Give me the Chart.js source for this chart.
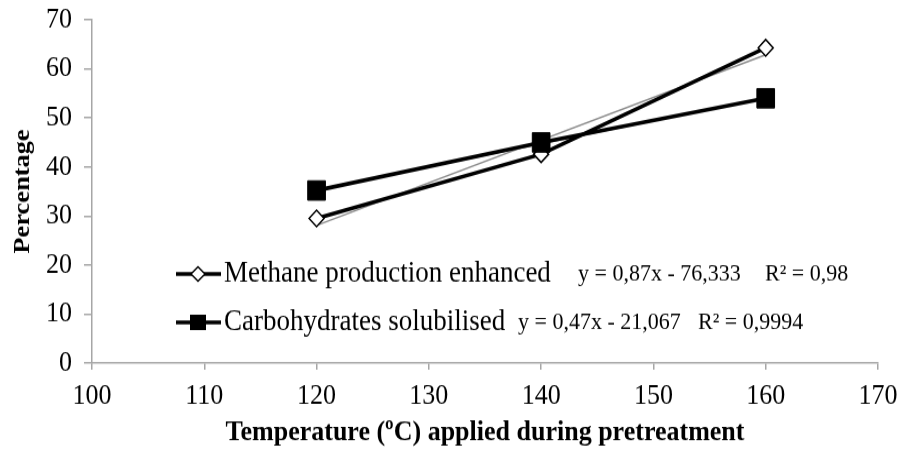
<!DOCTYPE html>
<html>
<head>
<meta charset="utf-8">
<script src="https://cdn.jsdelivr.net/npm/chart.js@4/dist/chart.umd.min.js"></script>
<style>
  html, body { margin: 0; padding: 0; background: #fff; }
  /* canvas is drawn 409px tall and stretched to 450 to get the tall serif look */
  #chart { width: 899px; height: 450px; }
</style>
</head>
<body>
<canvas id="chart" width="899" height="409" style="width:899px;height:450px"></canvas>
<script>
// pretreatment temperatures (ºC) and measured percentages
const temperatures = [120, 140, 160];
const methaneEnhanced = [29.5, 42.6, 64.3];
const carbsSolubilised = [35.2, 45.0, 54.0];

// linear fit lines, end points at 120 and 160 ºC
const trendTemps = [120, 160];
const methaneTrend = [28.07, 62.87];
const carbsTrend = [35.33, 54.13];

const xTicks = [100, 110, 120, 130, 140, 150, 160, 170];
const yTicks = [0, 10, 20, 30, 40, 50, 60, 70];

const seriesNames = ['Methane production enhanced', 'Carbohydrates solubilised'];
const fitEquations = ['y = 0,87x - 76,333', 'y = 0,47x - 21,067'];
const fitR2 = ['R² = 0,98', 'R² = 0,9994'];

const AXIS_GREY = '#a6a6a6';
const SERIF = '"Liberation Serif", "Times New Roman", serif';

const toPoints = (xs, ys) => xs.map((x, i) => ({ x, y: ys[i] }));

// legend sits inside the plot, with the fit equations next to each entry
const insideLegend = {
  id: 'insideLegend',
  afterDraw(chart) {
    const ctx = chart.ctx;
    const rows = [
      { y: 249, eqX: 578, r2X: 765, marker: 'diamond' },
      { y: 293, eqX: 518, r2X: 698, marker: 'square' }
    ];
    ctx.save();
    rows.forEach((row, i) => {
      ctx.strokeStyle = '#000';
      ctx.lineWidth = 3.6;
      ctx.beginPath();
      ctx.moveTo(176, row.y);
      ctx.lineTo(221, row.y);
      ctx.stroke();
      if (row.marker === 'diamond') {
        ctx.fillStyle = '#fff';
        ctx.lineWidth = 1.5;
        ctx.beginPath();
        ctx.moveTo(198, row.y - 6.5);
        ctx.lineTo(205, row.y);
        ctx.lineTo(198, row.y + 6.5);
        ctx.lineTo(191, row.y);
        ctx.closePath();
        ctx.fill();
        ctx.stroke();
      } else {
        ctx.fillStyle = '#000';
        ctx.fillRect(190, row.y - 7, 16, 14);
      }
      ctx.fillStyle = '#000';
      ctx.textBaseline = 'middle';
      ctx.textAlign = 'left';
      ctx.font = '27px ' + SERIF;
      ctx.fillText(seriesNames[i], 224, row.y);
      ctx.font = '22px ' + SERIF;
      ctx.fillText(fitEquations[i], row.eqX, row.y);
      ctx.fillText(fitR2[i], row.r2X, row.y);
    });
    ctx.restore();
  }
};

new Chart(document.getElementById('chart'), {
  type: 'scatter',
  data: {
    datasets: [
      {
        label: seriesNames[0],
        data: toPoints(temperatures, methaneEnhanced),
        showLine: true,
        borderColor: '#000',
        borderWidth: 3.6,
        pointStyle: 'rectRot',
        pointRadius: 7.5,
        pointBackgroundColor: '#fff',
        pointBorderColor: '#000',
        pointBorderWidth: 1.5,
        order: 2
      },
      {
        label: seriesNames[1],
        data: toPoints(temperatures, carbsSolubilised),
        showLine: true,
        borderColor: '#000',
        borderWidth: 3.6,
        pointStyle: 'rect',
        pointRadius: 12.5,
        pointBackgroundColor: '#000',
        pointBorderColor: '#000',
        pointBorderWidth: 1,
        order: 1
      },
      // fit lines go underneath the data lines
      {
        label: 'Linear (methane)',
        data: toPoints(trendTemps, methaneTrend),
        showLine: true,
        borderColor: '#8c8c8c',
        borderWidth: 1.4,
        pointRadius: 0,
        order: 3
      },
      {
        label: 'Linear (carbohydrates)',
        data: toPoints(trendTemps, carbsTrend),
        showLine: true,
        borderColor: '#8c8c8c',
        borderWidth: 1.4,
        pointRadius: 0,
        order: 3
      }
    ]
  },
  options: {
    responsive: false,
    animation: false,
    layout: { padding: { top: 18, right: 21, left: 0, bottom: 0 } },
    plugins: {
      legend: { display: false },
      tooltip: { enabled: false }
    },
    scales: {
      x: {
        type: 'linear',
        min: xTicks[0],
        max: xTicks[xTicks.length - 1],
        afterBuildTicks: (scale) => { scale.ticks = xTicks.map(v => ({ value: v })); },
        afterFit: (scale) => {
          scale.height = 79;
          scale.paddingLeft = 0;
          scale.paddingRight = 0;
        },
        grid: { drawOnChartArea: false, drawTicks: true, tickLength: 6, color: AXIS_GREY, lineWidth: 1.5 },
        border: { color: AXIS_GREY, width: 1.5 },
        ticks: { color: '#000', padding: 9, font: { family: SERIF, size: 26 } },
        title: {
          display: true,
          text: 'Temperature (ºC) applied during pretreatment',
          color: '#000',
          font: { family: SERIF, size: 26, weight: 'bold' },
          padding: { top: 0, bottom: 0 }
        }
      },
      y: {
        type: 'linear',
        min: yTicks[0],
        max: yTicks[yTicks.length - 1],
        afterBuildTicks: (scale) => { scale.ticks = yTicks.map(v => ({ value: v })); },
        afterFit: (scale) => {
          scale.width = 92;
          scale.paddingTop = 0;
          scale.paddingBottom = 0;
        },
        grid: { drawOnChartArea: false, drawTicks: true, tickLength: 8, color: AXIS_GREY, lineWidth: 1.5 },
        border: { color: AXIS_GREY, width: 1.5 },
        ticks: { color: '#000', padding: 12, font: { family: SERIF, size: 26 } },
        title: {
          display: true,
          text: 'Percentage',
          color: '#000',
          font: { family: SERIF, size: 24, weight: 'bold' },
          padding: { top: 8, bottom: 0 }
        }
      }
    }
  },
  plugins: [insideLegend]
});
</script>
</body>
</html>
